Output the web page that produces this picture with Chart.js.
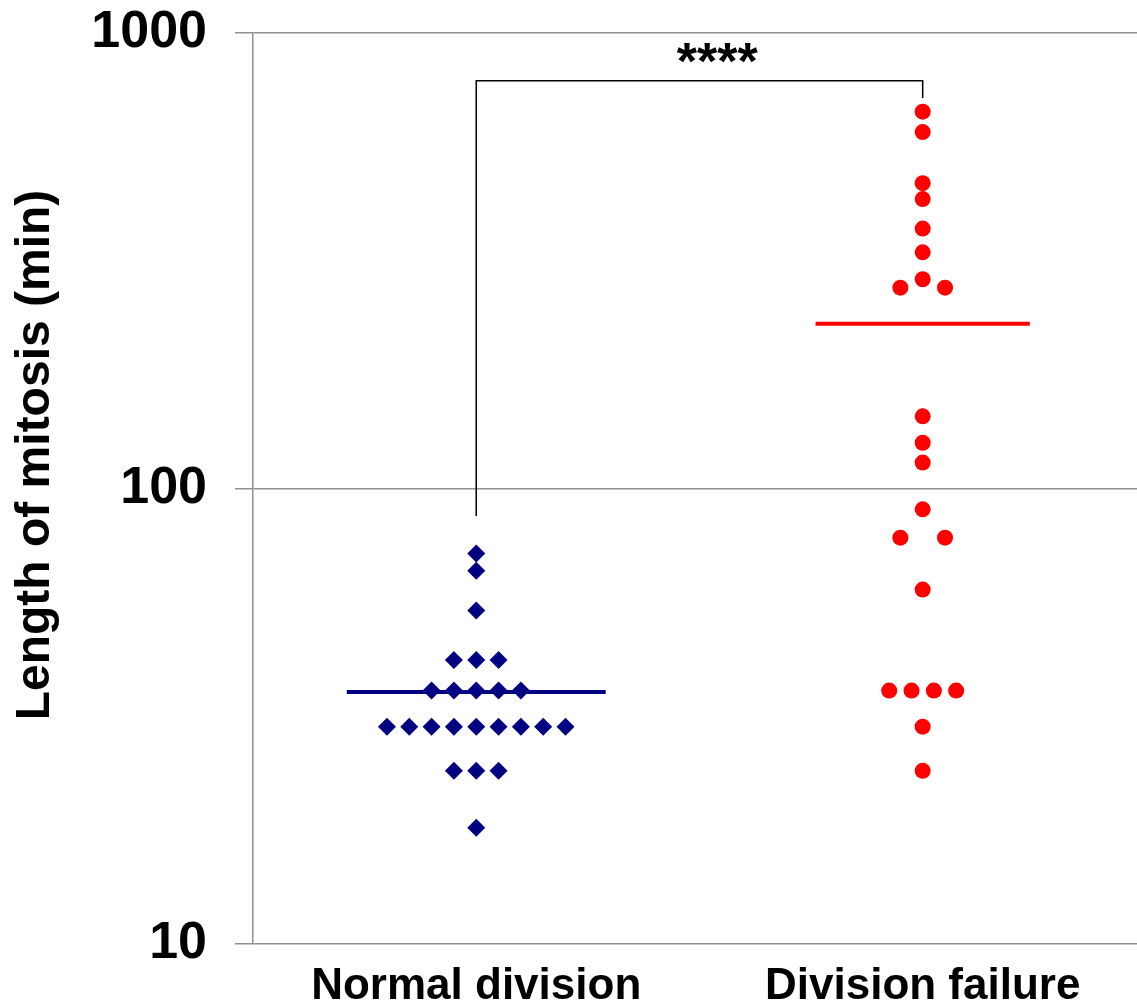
<!DOCTYPE html>
<html lang="en">
<head>
    <meta charset="UTF-8">
    <title>Length of mitosis</title>
    <script src="https://cdn.jsdelivr.net/npm/chart.js"></script>
    <style>
        html, body { margin: 0; padding: 0; background: #fff; overflow: hidden; }
        canvas { display: block; }
    </style>
</head>
<body>
    <canvas id="mitosisChart" width="1137" height="1005"></canvas>
    <script>
        // values (minutes, log scale)
        const categories = ['Normal division', 'Division failure'];
        const normalMinutes = [72, 66, 54, 42, 42, 42, 36, 36, 36, 36, 36,
            30, 30, 30, 30, 30, 30, 30, 30, 30, 24, 24, 24, 18];
        const failureMinutes = [672, 606, 468, 432, 372, 330, 288, 276, 276,
            144, 126, 114, 90, 78, 78, 60, 36, 36, 36, 36, 30, 24];
        const groupMeans = [35.75, 230];
        const yTicks = [10, 100, 1000];
        const yTitle = 'Length of mitosis (min)';

        // significance bracket: left foot, top, top, right foot
        const bracketX = [1, 1, 2, 2];
        const bracketY = [87, 786, 786, 720];
        const significance = '****';

        const NAVY = '#000080';
        const RED = '#ff0000';
        const GRID = '#909090';
        const FONT = "'Liberation Sans', Arial, sans-serif";

        // dots with the same value sit side by side around the column centre
        function spread(values, centre, step) {
            const counts = {};
            values.forEach(v => counts[v] = (counts[v] || 0) + 1);
            const seen = {};
            return values.map(v => {
                const n = counts[v];
                const i = seen[v] = (seen[v] === undefined ? 0 : seen[v] + 1);
                const slot = n === 2 ? (i ? 1 : -1) : i - (n - 1) / 2;
                return { x: centre + slot * step, y: v };
            });
        }

        function meanLine(i, halfWidth) {
            return [{ x: i + 1 - halfWidth, y: groupMeans[i] }, { x: i + 1 + halfWidth, y: groupMeans[i] }];
        }

        const overlay = {
            id: 'overlay',
            afterDraw(chart) {
                const ctx = chart.ctx;
                const xs = chart.scales.x, ys = chart.scales.y;
                ctx.save();
                ctx.fillStyle = '#000';
                ctx.font = 'bold 52px ' + FONT;
                ctx.textAlign = 'center';
                ctx.textBaseline = 'alphabetic';
                ctx.fillText(significance, xs.getPixelForValue(1.54), ys.getPixelForValue(1000) + 46);

                ctx.font = 'bold 48px ' + FONT;
                ctx.translate(49, 455);
                ctx.rotate(-Math.PI / 2);
                ctx.fillText(yTitle, 0, 0);
                ctx.restore();
            }
        };

        Chart.defaults.font.family = FONT;

        new Chart(document.getElementById('mitosisChart'), {
            type: 'scatter',
            data: {
                datasets: [
                    {
                        data: bracketX.map((x, i) => ({ x: x, y: bracketY[i] })),
                        showLine: true,
                        borderColor: '#000',
                        borderWidth: 1.5,
                        pointRadius: 0
                    },
                    {
                        data: meanLine(0, 0.29),
                        showLine: true,
                        borderColor: NAVY,
                        borderWidth: 4,
                        pointRadius: 0
                    },
                    {
                        data: meanLine(1, 0.24),
                        showLine: true,
                        borderColor: RED,
                        borderWidth: 4,
                        pointRadius: 0
                    },
                    {
                        data: spread(normalMinutes, 1, 0.05),
                        pointStyle: 'rectRot',
                        pointRadius: 9,
                        backgroundColor: NAVY,
                        borderColor: NAVY,
                        borderWidth: 0
                    },
                    {
                        data: spread(failureMinutes, 2, 0.05),
                        pointStyle: 'circle',
                        pointRadius: 8,
                        backgroundColor: RED,
                        borderColor: RED,
                        borderWidth: 0
                    }
                ]
            },
            options: {
                responsive: false,
                devicePixelRatio: 1,
                animation: false,
                layout: { autoPadding: false, padding: { top: 33, right: 0, bottom: 0, left: 0 } },
                plugins: {
                    legend: { display: false },
                    tooltip: { enabled: false }
                },
                scales: {
                    x: {
                        type: 'linear',
                        min: 0.5,
                        max: 2.48,
                        grid: { display: false, drawTicks: false },
                        border: { display: false },
                        afterBuildTicks: scale => { scale.ticks = categories.map((c, i) => ({ value: i + 1 })); },
                        afterFit: scale => {
                            scale.height = 61;
                            scale.paddingLeft = 0;
                            scale.paddingRight = 0;
                        },
                        ticks: {
                            padding: 16,
                            color: '#000',
                            font: { size: 44, weight: 'bold' },
                            callback: (value, index) => categories[index]
                        }
                    },
                    y: {
                        type: 'logarithmic',
                        min: 10,
                        max: 1000,
                        afterBuildTicks: scale => { scale.ticks = yTicks.map(v => ({ value: v })); },
                        afterFit: scale => {
                            scale.width = 253;
                            scale.paddingTop = 0;
                            scale.paddingBottom = 0;
                        },
                        grid: { color: GRID, lineWidth: 1.5, tickLength: 18 },
                        border: { display: true, color: GRID, width: 1.5 },
                        ticks: {
                            padding: 28,
                            color: '#000',
                            font: { size: 52, weight: 'bold' },
                            callback: value => String(value)
                        }
                    }
                }
            },
            plugins: [overlay]
        });
    </script>
</body>
</html>
